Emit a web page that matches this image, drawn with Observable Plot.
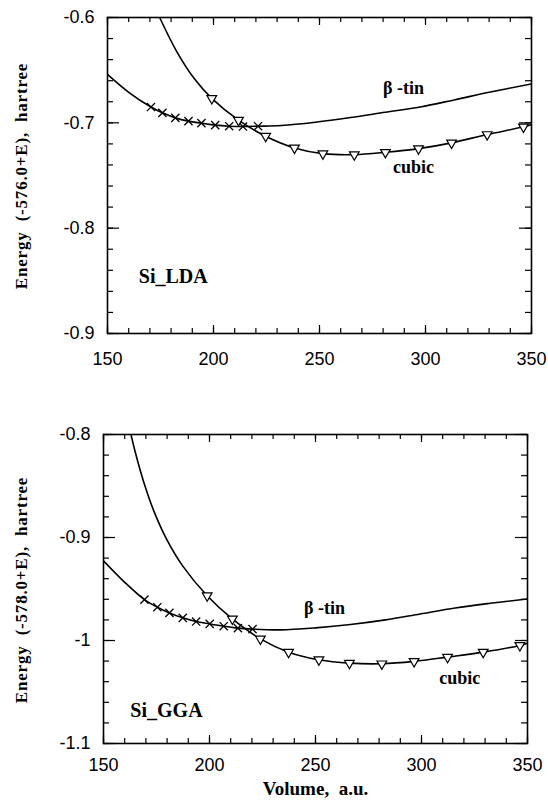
<!DOCTYPE html>
<html><head><meta charset="utf-8">
<script src="https://cdn.jsdelivr.net/npm/d3@7"></script>
<script src="https://cdn.jsdelivr.net/npm/@observablehq/plot@0.6"></script>
<style>
body{margin:0;background:#fff;}
#wrap{position:relative;width:548px;height:804px;background:#fff;overflow:hidden;}
.panel{position:absolute;left:0;}
.ylab{position:absolute;white-space:pre;font-family:"Liberation Serif","Times New Roman",serif;font-weight:bold;font-size:17px;letter-spacing:0.8px;color:#000;transform:translate(-50%,-50%) rotate(-90deg);line-height:1;}
</style></head><body>
<div id="wrap">
<div id="top" class="panel" style="top:0px"></div>
<div id="bot" class="panel" style="top:400px"></div>
<div id="ylabTop" class="ylab" style="left:21px;top:176px"></div>
<div id="ylabBot" class="ylab" style="left:21px;top:590px"></div>
</div>
<script>
// ---- Data ----
const xTicks = [150, 200, 250, 300, 350];
const xTickLabels = ["150", "200", "250", "300", "350"];
const xLabel = "Volume,  a.u.";

// Top panel: Si_LDA
const ldaYTicks = [-0.6, -0.7, -0.8, -0.9];
const ldaYTickLabels = ["-0.6", "-0.7", "-0.8", "-0.9"];
const ldaYLabel = "Energy  (-576.0+E),  hartree";
const ldaBetaV = [150, 160, 170.5, 175.9, 182, 188.2, 194.3, 200.8, 207.4, 213.9, 221, 232, 248, 264.7, 281, 297.5, 314, 330, 350];
const ldaBetaE = [-0.654, -0.671, -0.685, -0.6905, -0.6953, -0.6984, -0.7003, -0.7022, -0.7032, -0.7035, -0.7032, -0.7025, -0.6994, -0.695, -0.690, -0.685, -0.678, -0.671, -0.663];
const ldaBetaMarkV = [170.5, 175.9, 182, 188.2, 194.3, 200.8, 207.4, 213.9, 221];
const ldaBetaMarkE = [-0.685, -0.6905, -0.6953, -0.6984, -0.7003, -0.7022, -0.7032, -0.7035, -0.7032];
const ldaCubicV = [170, 174.6, 182.8, 191, 199.2, 211.8, 224.6, 238.2, 251.6, 266.4, 281.1, 296.7, 312.3, 329.1, 346.2, 350];
const ldaCubicE = [-0.579, -0.600, -0.6328, -0.6582, -0.6768, -0.6975, -0.7127, -0.7238, -0.7292, -0.7302, -0.728, -0.7245, -0.719, -0.7111, -0.7038, -0.7015];
const ldaCubicMarkV = [199.2, 211.8, 224.6, 238.2, 251.6, 266.4, 281.1, 296.7, 312.3, 329.1, 346.2];
const ldaCubicMarkE = [-0.6768, -0.6975, -0.7127, -0.7238, -0.7292, -0.7302, -0.728, -0.7245, -0.719, -0.7111, -0.7038];
const ldaNotes = ["β -tin", "cubic"];
const ldaNoteV = [289.6, 294.3];
const ldaNoteE = [-0.6674, -0.7425];
const ldaName = ["Si_LDA"];
const ldaNameV = [181];
const ldaNameE = [-0.846];

// Bottom panel: Si_GGA
const ggaYTicks = [-0.8, -0.9, -1.0, -1.1];
const ggaYTickLabels = ["-0.8", "-0.9", "-1", "-1.1"];
const ggaYLabel = "Energy  (-578.0+E),  hartree";
const ggaBetaV = [150, 160, 169.3, 175.4, 181.1, 187.4, 193.7, 200.1, 206.7, 213.4, 220.3, 233.5, 250, 266.5, 283, 299.4, 315.9, 332.4, 350];
const ggaBetaE = [-0.9226, -0.9435, -0.9603, -0.9677, -0.9732, -0.978, -0.9816, -0.9839, -0.9861, -0.988, -0.989, -0.9897, -0.9877, -0.9845, -0.980, -0.9742, -0.9684, -0.9639, -0.9597];
const ggaBetaMarkV = [169.3, 175.4, 181.1, 187.4, 193.7, 200.1, 206.7, 213.4, 220.3];
const ggaBetaMarkE = [-0.9603, -0.9677, -0.9732, -0.978, -0.9816, -0.9839, -0.9861, -0.988, -0.989];
const ggaCubicV = [157, 161.4, 165, 169.3, 174, 180, 187.4, 198.9, 210.8, 224, 237.3, 251.6, 266, 281.3, 296.5, 312.3, 329.1, 346.4, 350];
const ggaCubicE = [-0.739, -0.7856, -0.8173, -0.8483, -0.8756, -0.9026, -0.9278, -0.9565, -0.9791, -0.9984, -1.0113, -1.0187, -1.022, -1.0226, -1.0203, -1.0161, -1.0113, -1.0048, -1.0026];
const ggaCubicMarkV = [198.9, 210.8, 224, 237.3, 251.6, 266, 281.3, 296.5, 312.3, 329.1, 346.4];
const ggaCubicMarkE = [-0.9565, -0.9791, -0.9984, -1.0113, -1.0187, -1.022, -1.0226, -1.0203, -1.0161, -1.0113, -1.0048];
const ggaNotes = ["β -tin", "cubic"];
const ggaNoteV = [254.2, 318];
const ggaNoteE = [-0.969, -1.037];
const ggaName = ["Si_GGA"];
const ggaNameV = [179.7];
const ggaNameE = [-1.068];

// ---- helpers ----
const zip = (V, E) => V.map((v, i) => ({v, e: E[i]}));
const downTriangle = {
  draw(context, size) {
    const y = Math.sqrt(size / (Math.sqrt(3) * 3));
    const s3 = Math.sqrt(3);
    context.moveTo(0, 2 * y);
    context.lineTo(-s3 * y, -y);
    context.lineTo(s3 * y, -y);
    context.closePath();
  }
};
const SANS = "Liberation Sans, Arial, Helvetica, sans-serif";
const SERIF = "Liberation Serif, Times New Roman, serif";

function panel(c) {
  const W = 548;
  const innerW = W - c.ml - c.mr;
  const innerH = c.h - c.mt - c.mb;
  const [y0, y1] = c.yDomain;
  const yMinor = d3.range(Math.round(y0 * 50), Math.round(y1 * 50) + 1).map(k => k / 50);
  const xMinor = d3.range(150, 351, 10);
  const marks = [
    // inward ticks, four sides
    Plot.tickX(xMinor, {x: d => d, insetTop: innerH - 5, strokeWidth: 1.2}),
    Plot.tickX(xMinor, {x: d => d, insetBottom: innerH - 5, strokeWidth: 1.2}),
    Plot.tickX(xTicks, {x: d => d, insetTop: innerH - 8, strokeWidth: 1.2}),
    Plot.tickX(xTicks, {x: d => d, insetBottom: innerH - 8, strokeWidth: 1.2}),
    Plot.tickY(yMinor, {y: d => d, insetRight: innerW - 6, strokeWidth: 1.2}),
    Plot.tickY(yMinor, {y: d => d, insetLeft: innerW - 6, strokeWidth: 1.2}),
    Plot.tickY(c.yTicks, {y: d => d, insetRight: innerW - 12, strokeWidth: 1.2}),
    Plot.tickY(c.yTicks, {y: d => d, insetLeft: innerW - 12, strokeWidth: 1.2}),
    Plot.frame({stroke: "black", strokeWidth: 1.6}),
    // curves
    Plot.line(zip(c.betaV, c.betaE), {x: "v", y: "e", curve: "catmull-rom", stroke: "black", strokeWidth: 1.6, clip: true}),
    Plot.line(zip(c.cubicV, c.cubicE), {x: "v", y: "e", curve: "catmull-rom", stroke: "black", strokeWidth: 1.6, clip: true}),
    Plot.dot(zip(c.betaMarkV, c.betaMarkE), {x: "v", y: "e", symbol: "times", r: 3.8, stroke: "black", strokeWidth: 1.3}),
    Plot.dot(zip(c.cubicMarkV, c.cubicMarkE), {x: "v", y: "e", symbol: downTriangle, r: 3.6, fill: "white", stroke: "black", strokeWidth: 1.2}),
    // tick labels
    Plot.text(xTicks, {x: d => d, text: (d, i) => xTickLabels[i], frameAnchor: "bottom", dy: c.xLabDy, lineAnchor: "middle", fontSize: 18, fontFamily: SANS, fill: "black"}),
    Plot.text(c.yTicks, {y: d => d, text: (d, i) => c.yTickLabels[i], frameAnchor: "left", dx: -13, textAnchor: "end", lineAnchor: "middle", fontSize: 18, fontFamily: SANS, fill: "black"}),
    // annotations
    Plot.text(c.notes, {x: (d, i) => c.noteV[i], y: (d, i) => c.noteE[i], text: d => d, fontSize: 18, fontWeight: "bold", fontFamily: SERIF, fill: "black", lineAnchor: "middle"}),
    Plot.text(c.name, {x: (d, i) => c.nameV[i], y: (d, i) => c.nameE[i], text: d => d, fontSize: 20, fontWeight: "bold", fontFamily: SERIF, fill: "black", lineAnchor: "middle"})
  ];
  if (c.xLabel) marks.push(Plot.text([c.xLabel], {frameAnchor: "bottom", dy: 45, text: d => d, fontSize: 19, fontWeight: "bold", fontFamily: SERIF, fill: "black", lineAnchor: "middle", letterSpacing: 1}));
  return Plot.plot({
    width: W, height: c.h,
    marginLeft: c.ml, marginRight: c.mr, marginTop: c.mt, marginBottom: c.mb,
    x: {domain: [150, 350], axis: null},
    y: {domain: c.yDomain, axis: null},
    style: {background: "white", overflow: "visible"},
    marks
  });
}

document.getElementById("top").append(panel({
  h: 400, ml: 107, mr: 17, mt: 17, mb: 67,
  yDomain: [-0.9, -0.6], yTicks: ldaYTicks, yTickLabels: ldaYTickLabels, xLabDy: 26,
  betaV: ldaBetaV, betaE: ldaBetaE, betaMarkV: ldaBetaMarkV, betaMarkE: ldaBetaMarkE,
  cubicV: ldaCubicV, cubicE: ldaCubicE, cubicMarkV: ldaCubicMarkV, cubicMarkE: ldaCubicMarkE,
  notes: ldaNotes, noteV: ldaNoteV, noteE: ldaNoteE, name: ldaName, nameV: ldaNameV, nameE: ldaNameE
}));
document.getElementById("bot").append(panel({
  h: 404, ml: 103, mr: 21, mt: 34, mb: 61,
  yDomain: [-1.1, -0.8], yTicks: ggaYTicks, yTickLabels: ggaYTickLabels, xLabDy: 22,
  betaV: ggaBetaV, betaE: ggaBetaE, betaMarkV: ggaBetaMarkV, betaMarkE: ggaBetaMarkE,
  cubicV: ggaCubicV, cubicE: ggaCubicE, cubicMarkV: ggaCubicMarkV, cubicMarkE: ggaCubicMarkE,
  notes: ggaNotes, noteV: ggaNoteV, noteE: ggaNoteE, name: ggaName, nameV: ggaNameV, nameE: ggaNameE, xLabel: xLabel
}));
document.getElementById("ylabTop").textContent = ldaYLabel;
document.getElementById("ylabBot").textContent = ggaYLabel;
</script>
</body></html>
